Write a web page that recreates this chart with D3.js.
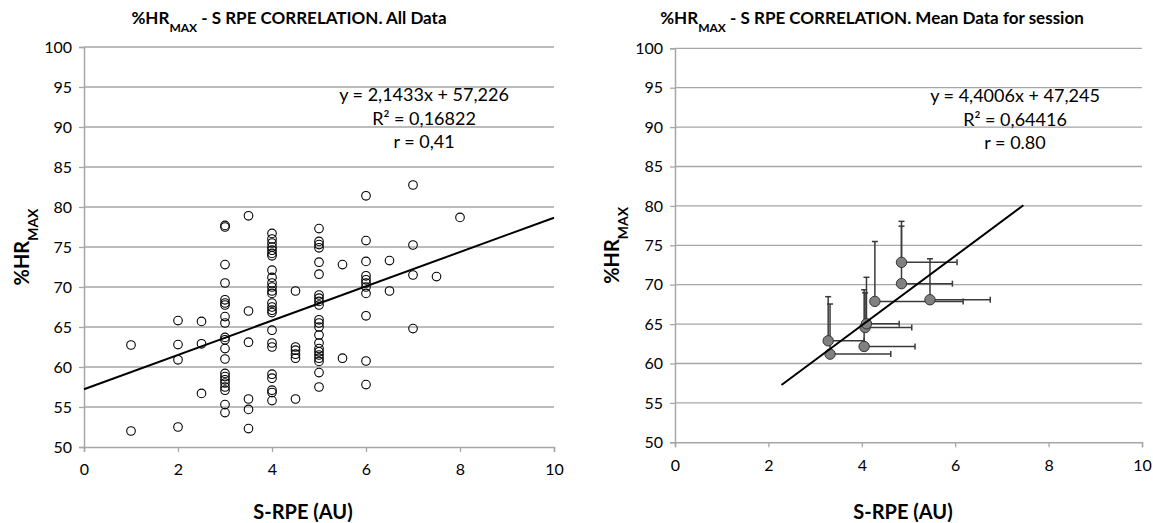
<!DOCTYPE html>
<html>
<head>
<meta charset="utf-8">
<script src="https://cdn.jsdelivr.net/npm/d3@7/dist/d3.min.js"></script>
<style>
  body { margin: 0; background: #fff; }
  text { font-family: Lato, "Open Sans", sans-serif; fill: #000; }
</style>
</head>
<body>
<svg id="chart" width="1153" height="523"></svg>
<script>
// Datos: todas las sesiones (S-RPE nivel -> valores %HRmax)
const allSrpe = [1, 2, 2.5, 3, 3.5, 4, 4.5, 5, 5.5, 6, 6.5, 7, 7.5, 8];
const allHr = [
  [62.75, 52.0],
  [65.8, 62.8, 60.9, 52.5],
  [65.7, 62.9, 56.7],
  [77.7, 77.5, 72.8, 70.5, 68.4, 68.0, 67.75, 66.3, 65.5, 63.7, 63.4, 62.3, 61.0,
   59.2, 58.8, 58.4, 58.0, 57.5, 57.1, 55.3, 54.3],
  [78.9, 67.0, 63.1, 56.0, 54.7, 52.3],
  [76.7, 76.0, 75.5, 75.0, 74.6, 74.2, 73.9, 72.1, 71.2, 70.5, 70.0, 69.5, 69.2,
   68.0, 67.5, 67.1, 66.8, 64.6, 63.0, 62.5, 59.1, 58.6, 57.1, 56.8, 55.8],
  [69.5, 62.5, 62.1, 61.6, 61.1, 56.0],
  [77.3, 75.7, 75.3, 74.9, 73.1, 71.6, 69.0, 68.6, 68.2, 67.75, 65.9, 65.5, 65.0,
   64.0, 63.0, 62.3, 61.9, 61.5, 61.1, 60.7, 59.3, 57.5],
  [72.8, 61.1],
  [81.4, 75.8, 73.2, 71.4, 70.9, 70.5, 70.0, 69.2, 66.4, 60.75, 57.8],
  [73.3, 69.5],
  [82.75, 75.25, 71.5, 64.8],
  [71.3],
  [78.7]
];

// Datos medios por sesión, con barras de error (+)
const meanSrpe = [3.28, 3.32, 4.05, 4.07, 4.10, 4.28, 4.85, 4.85, 5.46];
const meanHr = [62.88, 61.19, 62.16, 64.57, 65.04, 67.88, 72.84, 70.13, 68.09];
const errHr = [5.6, 6.36, 7.2, 4.4, 5.9, 7.6, 5.2, 7.3, 5.2];
const errSrpe = [0.77, 1.30, 1.09, 1.0, 0.70, 1.89, 1.19, 1.09, 1.29];

// Ejes y regresiones
const xTicks = [0, 2, 4, 6, 8, 10];
const yTicks = [50, 55, 60, 65, 70, 75, 80, 85, 90, 95, 100];
const fitAll = { slope: 2.1433, intercept: 57.226, from: 0, to: 10 };
const fitMean = { slope: 4.4006, intercept: 47.245, from: 2.28, to: 7.46 };
const labelsAll = ["y = 2,1433x + 57,226", "R² = 0,16822", "r = 0,41"];
const labelsMean = ["y = 4,4006x + 47,245", "R² = 0,64416", "r = 0.80"];

const svg = d3.select("#chart");

function drawPanel(p) {
  const x = d3.scaleLinear().domain([0, 10]).range([p.left, p.right]);
  const y = d3.scaleLinear().domain([50, 100]).range([p.bottom, p.top]);
  const g = svg.append("g");

  // Líneas de cuadrícula
  g.selectAll(".grid")
    .data(yTicks.slice(1))
    .enter()
    .append("line")
    .attr("x1", p.left)
    .attr("x2", p.right)
    .attr("y1", (d) => y(d))
    .attr("y2", (d) => y(d))
    .style("stroke", "#a6a6a6")
    .style("stroke-width", 1.3);

  // Ejes
  const yAxis = g.append("g")
    .attr("transform", `translate(${p.left},0)`)
    .call(d3.axisLeft(y).tickValues(yTicks).tickSize(5).tickPadding(7));
  const xAxis = g.append("g")
    .attr("transform", `translate(0,${p.bottom})`)
    .call(d3.axisBottom(x).tickValues(xTicks).tickSize(5).tickPadding(12));
  [xAxis, yAxis].forEach((a) => {
    a.select(".domain").style("stroke", "#a6a6a6").style("stroke-width", 1.5);
    a.selectAll(".tick line").style("stroke", "#a6a6a6").style("stroke-width", 1.3);
    a.selectAll(".tick text")
      .style("font-family", "Lato, sans-serif")
      .style("font-size", "16px")
      .style("fill", "#000");
  });

  p.marks(g, x, y);

  // Línea de tendencia
  const fit = p.fit;
  g.append("line")
    .attr("x1", x(fit.from))
    .attr("y1", y(fit.slope * fit.from + fit.intercept))
    .attr("x2", x(fit.to))
    .attr("y2", y(fit.slope * fit.to + fit.intercept))
    .style("stroke", "#000")
    .style("stroke-width", 2);

  // Ecuación
  g.selectAll(".eq")
    .data(p.labels)
    .enter()
    .append("text")
    .attr("x", p.eqX)
    .attr("y", (d, i) => p.eqY + i * 23.5)
    .attr("text-anchor", "middle")
    .style("font-size", "18px")
    .text((d) => d);

  // Título
  const t = g.append("text")
    .attr("x", p.titleX)
    .attr("y", 24)
    .attr("text-anchor", "middle")
    .style("font-size", "17px")
    .style("font-weight", "bold");
  t.append("tspan").text("%HR");
  t.append("tspan").attr("baseline-shift", "sub").style("font-size", "12px").text("MAX");
  t.append("tspan").text(p.title);

  // Título eje Y
  const yl = g.append("text")
    .attr("transform", `translate(${p.yLabelX},${(p.top + p.bottom) / 2}) rotate(-90)`)
    .attr("text-anchor", "middle")
    .style("font-size", "20px")
    .style("font-weight", "bold");
  yl.append("tspan").text("%HR");
  yl.append("tspan").attr("baseline-shift", "sub").style("font-size", "14px").text("MAX");

  // Título eje X
  g.append("text")
    .attr("x", p.xLabelX)
    .attr("y", 519)
    .attr("text-anchor", "middle")
    .style("font-size", "20px")
    .style("font-weight", "bold")
    .text("S-RPE (AU)");
}

drawPanel({
  left: 84, right: 554, top: 47, bottom: 447,
  fit: fitAll, labels: labelsAll, eqX: 424, eqY: 101,
  title: " - S RPE CORRELATION. All Data", titleX: 289, yLabelX: 29, xLabelX: 303,
  marks: (g, x, y) => {
    const pts = [];
    allSrpe.forEach((s, i) => allHr[i].forEach((h) => pts.push([s, h])));
    g.selectAll(".pt")
      .data(pts)
      .enter()
      .append("circle")
      .attr("cx", (d) => x(d[0]))
      .attr("cy", (d) => y(d[1]))
      .attr("r", 4.3)
      .style("fill", "none")
      .style("stroke", "#000")
      .style("stroke-width", 1.1);
  }
});

drawPanel({
  left: 675, right: 1142, top: 48.3, bottom: 442.3,
  fit: fitMean, labels: labelsMean, eqX: 1015, eqY: 102,
  title: " - S RPE CORRELATION. Mean Data for session", titleX: 872, yLabelX: 619, xLabelX: 903,
  marks: (g, x, y) => {
    const idx = d3.range(meanSrpe.length);
    const eb = g.append("g").style("stroke", "#3a3a3a").style("stroke-width", 1.5);
    // Barras verticales (+)
    eb.selectAll(".ev").data(idx).enter().append("line")
      .attr("x1", (i) => x(meanSrpe[i])).attr("x2", (i) => x(meanSrpe[i]))
      .attr("y1", (i) => y(meanHr[i])).attr("y2", (i) => y(meanHr[i] + errHr[i]));
    eb.selectAll(".evc").data(idx).enter().append("line")
      .attr("x1", (i) => x(meanSrpe[i]) - 3).attr("x2", (i) => x(meanSrpe[i]) + 3)
      .attr("y1", (i) => y(meanHr[i] + errHr[i])).attr("y2", (i) => y(meanHr[i] + errHr[i]));
    // Barras horizontales (+)
    eb.selectAll(".eh").data(idx).enter().append("line")
      .attr("x1", (i) => x(meanSrpe[i])).attr("x2", (i) => x(meanSrpe[i] + errSrpe[i]))
      .attr("y1", (i) => y(meanHr[i])).attr("y2", (i) => y(meanHr[i]));
    eb.selectAll(".ehc").data(idx).enter().append("line")
      .attr("x1", (i) => x(meanSrpe[i] + errSrpe[i])).attr("x2", (i) => x(meanSrpe[i] + errSrpe[i]))
      .attr("y1", (i) => y(meanHr[i]) - 3).attr("y2", (i) => y(meanHr[i]) + 3);
    g.selectAll(".mp").data(idx).enter().append("circle")
      .attr("cx", (i) => x(meanSrpe[i]))
      .attr("cy", (i) => y(meanHr[i]))
      .attr("r", 5.2)
      .style("fill", "#808080")
      .style("stroke", "#333")
      .style("stroke-width", 1);
  }
});
</script>
</body>
</html>
